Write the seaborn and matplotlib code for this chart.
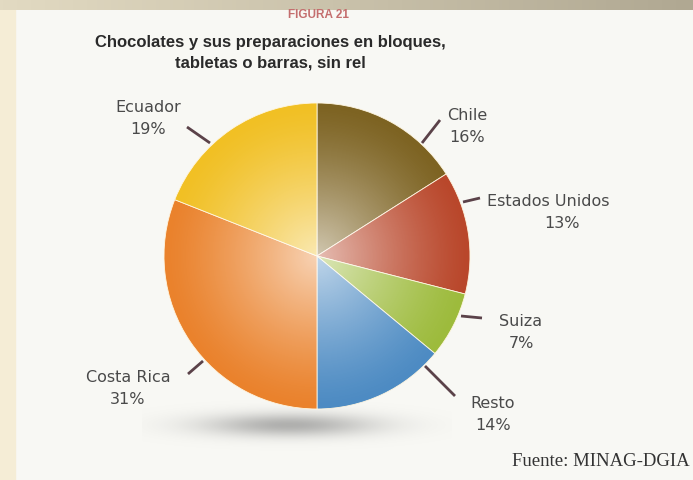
import numpy as np
import matplotlib
matplotlib.use("Agg")
import matplotlib.pyplot as plt
import seaborn as sns
from matplotlib.patches import Circle, Rectangle

sns.set_theme(style="white")
plt.rcParams["font.family"] = ["DejaVu Sans"]

# data
countries = ["Chile", "Estados Unidos", "Suiza", "Resto", "Costa Rica", "Ecuador"]
shares = [16, 13, 7, 14, 31, 19]
slice_colors = ["#7d6322", "#b9472b", "#9dbb3c", "#4d8bc3", "#ea822c", "#f1c024"]

title_top = "FIGURA 21"
title_lines = "Chocolates y sus preparaciones en bloques,\ntabletas o barras, sin rel"
source = "Fuente: MINAG-DGIA"

W, H = 693, 480
fig = plt.figure(figsize=(W / 100, H / 100), dpi=100)
ax = fig.add_axes([0, 0, 1, 1])


def Y(py):
    return H - py


# page background (photo of a printed page)
ax.add_patch(Rectangle((0, 0), W, H, color="#f8f8f4", zorder=0))
ax.add_patch(Rectangle((0, 0), 15, H, color="#f5edd6", zorder=1))
top = np.linspace(0, 1, 200)[None, :]
ax.imshow(top, cmap=matplotlib.colors.LinearSegmentedColormap.from_list("t", ["#e2dac2", "#b0a892"]),
          extent=(0, W, Y(10), H), aspect="auto", zorder=1)

# soft shadow under the pie
cx, cy, R = 317, 256, 153
gx, gy = np.meshgrid(np.linspace(-1, 1, 300), np.linspace(-1, 1, 100))
shade = np.exp(-((gx + 0.05) ** 2) / 0.3 - (gy ** 2) / 0.15)
rgba = np.zeros((100, 300, 4))
rgba[..., :3] = 0.5
rgba[..., 3] = 0.6 * shade
ax.imshow(rgba, extent=(cx - 175, cx + 135, Y(455), Y(395)), aspect="auto", zorder=2)

wedges, _ = ax.pie(shares, colors=slice_colors, startangle=90, counterclock=False,
                   center=(cx, Y(cy)), radius=R, frame=True,
                   wedgeprops=dict(linewidth=0.6, edgecolor="#fff6e0", zorder=3))
ax.set_xlim(0, W)
ax.set_ylim(0, H)
ax.set_aspect("equal")
ax.axis("off")

# lighter toward the centre, like the printed gradient
n = 400
ux, uy = np.meshgrid(np.linspace(-1, 1, n), np.linspace(-1, 1, n))
rr = np.sqrt(ux ** 2 + uy ** 2)
glow = np.zeros((n, n, 4))
glow[..., :3] = 1.0
glow[..., 3] = np.clip(0.65 * (1 - rr) ** 1.3, 0, 1)
im = ax.imshow(glow, extent=(cx - R, cx + R, Y(cy) - R, Y(cy) + R), zorder=4)
clip = Circle((cx, Y(cy)), R, transform=ax.transData)
im.set_clip_path(clip)

# labels and leader lines
label_pos = {
    "Chile": (467, 116),
    "Estados Unidos": (548, 202),
    "Suiza": (521, 322),
    "Resto": (493, 403),
    "Costa Rica": (128, 378),
    "Ecuador": (148, 108),
}
pct_pos = {
    "Chile": (467, 138),
    "Estados Unidos": (562, 223),
    "Suiza": (521, 344),
    "Resto": (493, 425),
    "Costa Rica": (128, 400),
    "Ecuador": (148, 130),
}
leaders = {
    "Chile": ((440, 120), (422, 143)),
    "Estados Unidos": ((480, 198), (463, 202)),
    "Suiza": ((482, 318), (461, 316)),
    "Resto": ((455, 396), (425, 366)),
    "Costa Rica": ((188, 374), (203, 361)),
    "Ecuador": ((187, 127), (210, 143)),
}
for name, val in zip(countries, shares):
    (x0, y0), (x1, y1) = leaders[name]
    ax.plot([x0, x1], [Y(y0), Y(y1)], color="#5b4249", lw=2, solid_capstyle="butt", zorder=5)
    lx, ly = label_pos[name]
    ax.text(lx, Y(ly), name, ha="center", va="center", fontsize=11.5, color="#4a4a4a", zorder=6)
    px, py = pct_pos[name]
    ax.text(px, Y(py), f"{val}%", ha="center", va="center", fontsize=11.5, color="#4a4a4a", zorder=6)

ax.text(318, Y(15), title_top, ha="center", va="center", fontsize=8.5, fontweight="bold",
        color="#c46e6e", family=["Liberation Sans", "DejaVu Sans"])
ax.text(270, Y(53), title_lines, ha="center", va="center", fontsize=12, fontweight="bold",
        color="#2a2a2a", linespacing=1.45, family=["Liberation Sans", "DejaVu Sans"])
ax.text(690, Y(461), source, ha="right", va="center", fontsize=13.5, color="#333333",
        family=["Liberation Serif", "DejaVu Serif"])

fig.savefig("out.png", dpi=100)
